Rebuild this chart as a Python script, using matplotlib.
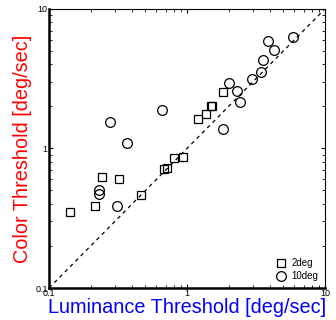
import matplotlib
matplotlib.use('Agg')
import matplotlib.pyplot as plt
from matplotlib.ticker import LogLocator, NullFormatter, FixedFormatter, FixedLocator

# 2deg stimulus (squares)
lum_2deg = [1.82, 1.52, 1.49, 1.37, 1.20, 0.94, 0.81, 0.72, 0.685, 0.467,
            0.242, 0.323, 0.214, 0.143]
col_2deg = [2.52, 2.02, 2.00, 1.76, 1.64, 0.871, 0.857, 0.721, 0.710, 0.461,
            0.622, 0.608, 0.387, 0.351]

# 10deg stimulus (circles)
lum_10deg = [5.89, 3.85, 4.27, 3.54, 3.42, 2.96, 2.01, 2.32, 2.43, 0.659,
             0.277, 1.83, 0.369, 0.229, 0.229, 0.309]
col_10deg = [6.25, 5.92, 5.10, 4.32, 3.56, 3.17, 2.97, 2.58, 2.17, 1.90,
             1.54, 1.39, 1.09, 0.503, 0.475, 0.385]

plt.rcParams['font.family'] = ['Liberation Sans', 'DejaVu Sans']

fig = plt.figure(figsize=(3.36, 3.2), dpi=100)
ax = fig.add_axes([0.146, 0.1, 0.821, 0.872])

ax.plot([0.1, 10], [0.1, 10], linestyle=(0, (3, 3)), color='k', linewidth=0.9)
ax.plot(lum_2deg, col_2deg, 's', markersize=6, markerfacecolor='none',
        markeredgecolor='k', markeredgewidth=0.9, label='2deg')
ax.plot(lum_10deg, col_10deg, 'o', markersize=7, markerfacecolor='none',
        markeredgecolor='k', markeredgewidth=0.9, label='10deg')

ax.set_xscale('log')
ax.set_yscale('log')
ax.set_xlim(0.1, 10)
ax.set_ylim(0.1, 10)

for axis in (ax.xaxis, ax.yaxis):
    axis.set_major_locator(FixedLocator([0.1, 1, 10]))
    axis.set_major_formatter(FixedFormatter(['0.1', '1', '10']))
    axis.set_minor_locator(LogLocator(base=10, subs=range(2, 10)))
    axis.set_minor_formatter(NullFormatter())

ax.tick_params(which='both', direction='in', top=True, right=True,
               labelsize=6.5, pad=1)
ax.tick_params(which='major', length=3, width=0.8)
ax.tick_params(which='minor', length=2, width=0.6)
for side in ('left', 'bottom'):
    ax.spines[side].set_linewidth(1.8)
for side in ('right', 'top'):
    ax.spines[side].set_linewidth(0.8)

ax.set_xlabel('Luminance Threshold [deg/sec]', color='blue', fontsize=14.3,
              labelpad=0)
ax.set_ylabel('Color Threshold [deg/sec]', color='red', fontsize=14.3,
              labelpad=2)

leg = ax.legend(loc='lower right', frameon=False, fontsize=7,
                handlelength=1.2, handletextpad=0.5, labelspacing=0.3,
                borderaxespad=0.3)

fig.savefig('out.png', dpi=100)
